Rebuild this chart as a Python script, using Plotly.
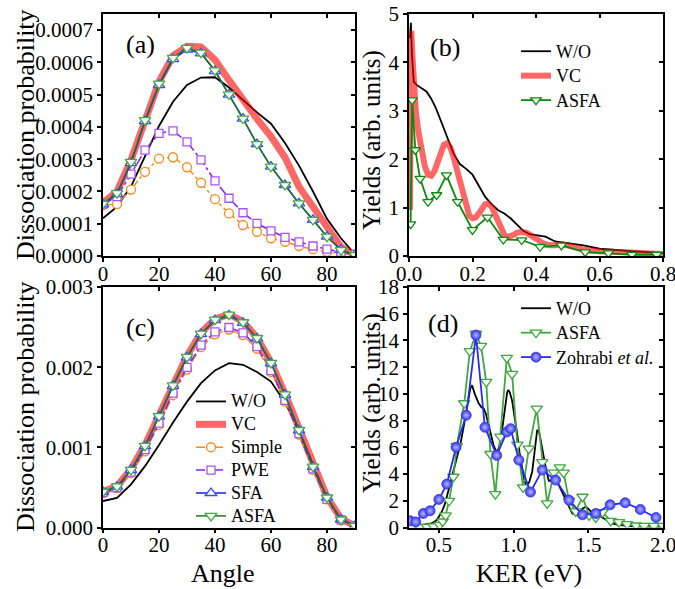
import plotly.graph_objects as go

FONT = "Liberation Serif"

# ---------------- Panel (a) ----------------
angle = [0, 5, 10, 15, 20, 25, 30, 35, 40, 45, 50, 55, 60, 65, 70, 75, 80, 85, 90]
a_wo = [0.000117, 0.000153, 0.000215, 0.00031, 0.000403, 0.000478, 0.00053, 0.000553, 0.000554, 0.000522,
        0.000483, 0.000445, 0.00041, 0.00035, 0.00028, 0.0002, 0.000115, 0.000055, 0.000005]
a_vc = [0.000165, 0.0002, 0.000298, 0.000427, 0.00054, 0.00062, 0.00065, 0.000648, 0.000608, 0.000545,
        0.000483, 0.000425, 0.00037, 0.000305, 0.000215, 0.000155, 0.00009, 0.000028, 0.000003]
a_simple = [0.000158, 0.000161, 0.000206, 0.000261, 0.000302, 0.000306, 0.000275, 0.000227, 0.000176, 0.000132,
            0.000096, 0.000075, 0.000055, 0.000044, 0.000031, 0.000021, 0.000013, 0.000008, 0.000004]
a_pwe = [0.000161, 0.000184, 0.000254, 0.000328, 0.00038, 0.000388, 0.000354, 0.000298, 0.000233, 0.000179,
         0.000134, 0.000101, 0.000078, 0.000058, 0.000044, 0.000031, 0.000021, 0.000012, 0.000005]
a_sfa = [0.00016, 0.000192, 0.000288, 0.000418, 0.00053, 0.00061, 0.00064, 0.000628, 0.000573, 0.0005,
         0.000426, 0.000347, 0.000277, 0.00022, 0.000163, 0.000112, 0.00006, 0.000019, 0.000003]
a_asfa = [0.000162, 0.000195, 0.000292, 0.000421, 0.000534, 0.000614, 0.000645, 0.00063, 0.000575, 0.000501,
          0.000426, 0.000347, 0.000277, 0.00022, 0.000163, 0.000112, 0.00006, 0.000018, 0.000003]

# ---------------- Panel (b) ----------------
b_wo_x = [0.003, 0.006, 0.009, 0.015, 0.025, 0.04, 0.055, 0.07, 0.085, 0.1, 0.12, 0.14, 0.16, 0.18, 0.2,
          0.22, 0.24, 0.26, 0.28, 0.3, 0.32, 0.34, 0.36, 0.38, 0.4, 0.43, 0.46, 0.5, 0.55, 0.6, 0.65, 0.7,
          0.75, 0.8]
b_wo_y = [4.5, 4.82, 4.2, 3.6, 3.53, 3.47, 3.4, 3.25, 3.05, 2.8, 2.45, 2.12, 1.9, 1.8, 1.68,
          1.45, 1.22, 1.07, 0.95, 0.88, 0.78, 0.65, 0.52, 0.45, 0.43, 0.4, 0.3, 0.26, 0.22, 0.15, 0.12, 0.1,
          0.08, 0.06]
b_vc_x = [0.003, 0.007, 0.012, 0.016, 0.022, 0.03, 0.04, 0.05, 0.06, 0.07, 0.08, 0.09, 0.1, 0.11, 0.12,
          0.13, 0.14, 0.15, 0.16, 0.17, 0.18, 0.19, 0.2, 0.21, 0.22, 0.23, 0.24, 0.25, 0.26, 0.27, 0.28,
          0.29, 0.3, 0.31, 0.32, 0.33, 0.34, 0.355, 0.37, 0.385, 0.4, 0.42, 0.44, 0.46, 0.48, 0.5, 0.52,
          0.55, 0.6, 0.65, 0.7, 0.75, 0.8]
b_vc_y = [0.95, 4.65, 4.0, 3.4, 2.95, 2.55, 2.15, 1.85, 1.68, 1.66, 1.75, 1.93, 2.15, 2.3, 2.33,
          2.25, 2.05, 1.8, 1.5, 1.22, 0.98, 0.83, 0.78, 0.8, 0.88, 1.0, 1.07, 1.08, 1.02, 0.88, 0.72,
          0.55, 0.44, 0.39, 0.4, 0.44, 0.48, 0.5, 0.48, 0.43, 0.36, 0.27, 0.22, 0.22, 0.24, 0.22, 0.18,
          0.13, 0.1, 0.08, 0.07, 0.05, 0.04]
b_asfa_x = [0.005, 0.01, 0.02, 0.035, 0.06, 0.087, 0.118, 0.153, 0.2, 0.247, 0.297, 0.355, 0.413, 0.48,
            0.555, 0.628, 0.702, 0.78]
b_asfa_y = [0.66, 3.22, 2.19, 1.6, 1.12, 1.26, 1.67, 1.12, 0.54, 0.8, 0.34, 0.33, 0.19, 0.22,
            0.08, 0.06, 0.03, 0.03]

# ---------------- Panel (c) ----------------
c_wo = [0.00033, 0.00037, 0.000538, 0.000765, 0.00103, 0.00131, 0.00157, 0.0018, 0.00196, 0.00205,
        0.00203, 0.00194, 0.00182, 0.00156, 0.00121, 0.00079, 0.00036, 0.0001, 0.00002]
c_vc = [0.00045, 0.000515, 0.00073, 0.00103, 0.0014, 0.00178, 0.00214, 0.00243, 0.0026, 0.00266,
        0.00257, 0.00237, 0.00206, 0.00167, 0.00122, 0.00077, 0.00038, 0.00011, 0.00002]
c_simple = [0.00043, 0.00049, 0.00068, 0.00095, 0.00128, 0.00165, 0.00197, 0.00225, 0.00241, 0.00247,
            0.0024, 0.00223, 0.00194, 0.00157, 0.00116, 0.00072, 0.00035, 0.00009, 0.00002]
c_pwe = [0.000434, 0.000496, 0.000691, 0.000972, 0.001303, 0.001676, 0.001998, 0.002276, 0.002441, 0.002495,
         0.002429, 0.002255, 0.001957, 0.001585, 0.001171, 0.000732, 0.000352, 0.000095, 0.00002]
c_sfa = [0.000443, 0.000509, 0.000716, 0.001014, 0.001386, 0.001767, 0.002122, 0.002412, 0.002586, 0.002648,
         0.002553, 0.002358, 0.002048, 0.001655, 0.001212, 0.000757, 0.000372, 0.0001, 0.00002]
c_asfa = [0.000446, 0.000512, 0.00072, 0.001018, 0.00139, 0.001772, 0.002128, 0.002418, 0.002592, 0.002655,
          0.00256, 0.002364, 0.002053, 0.00166, 0.001216, 0.00076, 0.000374, 0.0001, 0.00002]

# ---------------- Panel (d) ----------------
d_wo_x = [0.3, 0.35, 0.4, 0.45, 0.48, 0.5, 0.52, 0.54, 0.56, 0.576, 0.6, 0.62, 0.645, 0.665, 0.69, 0.71,
          0.722, 0.74, 0.766, 0.785, 0.8, 0.815, 0.83, 0.85, 0.867, 0.889, 0.905, 0.923, 0.94, 0.957, 0.965,
          0.975, 0.99, 1.01, 1.024, 1.04, 1.057, 1.072, 1.086, 1.105, 1.125, 1.14, 1.158, 1.17, 1.185, 1.2,
          1.22, 1.236, 1.26, 1.293, 1.315, 1.337, 1.365, 1.393, 1.427, 1.46, 1.483, 1.505, 1.528, 1.555,
          1.58, 1.6, 1.628, 1.66, 1.7, 1.75, 1.8, 1.9, 2.0]
d_wo_y = [0.25, 0.2, 0.22, 0.3, 0.5, 0.8, 1.2, 1.75, 2.6, 3.3, 4.2, 5.0, 6.3, 7.5, 9.3, 10.4,
          10.65, 10.0, 9.3, 9.0, 8.9, 8.5, 7.8, 6.9, 6.1, 5.6, 6.1, 7.3, 8.8, 10.1, 10.3,
          10.1, 9.5, 8.2, 7.0, 5.6, 4.3, 3.5, 3.1, 3.4, 4.2, 5.6, 7.3, 7.2, 6.2, 5.3,
          4.2, 3.5, 3.5, 3.4, 2.9, 2.4, 1.7, 1.05, 0.95, 1.4, 1.55, 1.35, 1.05, 0.9,
          0.85, 0.7, 0.5, 0.3, 0.2, 0.12, 0.08, 0.05, 0.05]
d_asfa_x = [0.32, 0.37, 0.42, 0.465, 0.505, 0.525, 0.545, 0.568, 0.597, 0.62, 0.67, 0.707, 0.748, 0.782,
            0.817, 0.845, 0.878, 0.912, 0.955, 0.99, 1.025, 1.064, 1.102, 1.155, 1.192, 1.225, 1.27, 1.31,
            1.335, 1.371, 1.416, 1.461, 1.505, 1.55, 1.595, 1.65, 1.705, 1.76, 1.82, 1.875, 1.94, 2.0]
d_asfa_y = [0.05, 0.05, 0.05, 0.08, 0.2, 0.45, 0.9, 2.0, 3.8, 6.1, 9.3, 13.2, 14.5, 13.6,
            10.9, 5.5, 2.5, 6.8, 12.7, 11.5, 6.2, 3.0, 5.9, 8.9, 4.9, 1.8, 4.1, 4.5,
            4.1, 2.0, 1.2, 2.3, 0.9, 0.75, 1.15, 0.5, 0.4, 0.25, 0.15, 0.12, 0.12, 0.12]
d_zoh_x = [0.307, 0.345, 0.396, 0.441, 0.5, 0.553, 0.615, 0.683, 0.748, 0.808, 0.887, 0.955, 0.98, 1.035,
           1.113, 1.192, 1.281, 1.371, 1.461, 1.55, 1.646, 1.747, 1.848, 1.953]
d_zoh_y = [0.5, 0.42, 1.05, 1.25, 2.1, 3.25, 6.0, 8.4, 14.4, 7.5, 5.4, 7.15, 7.4, 5.05,
           2.65, 4.3, 3.55, 2.05, 0.95, 1.05, 1.7, 1.85, 1.35, 0.75]

# tick definitions
ang_ticks = [0, 20, 40, 60, 80]
a_yticks = [0.0, 0.0001, 0.0002, 0.0003, 0.0004, 0.0005, 0.0006, 0.0007]
b_xticks = [0.0, 0.2, 0.4, 0.6, 0.8]
b_yticks = [0, 1, 2, 3, 4, 5]
c_yticks = [0.0, 0.001, 0.002, 0.003]
d_xticks = [0.5, 1.0, 1.5, 2.0]
d_yticks = [0, 2, 4, 6, 8, 10, 12, 14, 16, 18]

# colours
BLACK = "#000000"
VC = "rgba(255,0,0,0.6)"
ORANGE = "#FF8A1C"
PURPLE_L = "#8A1EF0"
PURPLE_M = "#A855F7"
BLUE_L = "#1A1AFF"
BLUE_M = "#3A4BFF"
GREEN_L = "#1E7B1E"
GREEN_M = "#45A845"


def lab(s):
    # legend label drawn at 18px while row spacing follows the (smaller) legend font
    return '<span style="font-size:18px">%s</span>' % s


fig = go.Figure()


def line_tr(x, y, name, color, width, xa, ya, legend=None, dash="solid"):
    return go.Scatter(x=x, y=y, name=lab(name), mode="lines", xaxis=xa, yaxis=ya,
                      line=dict(color=color, width=width, dash=dash),
                      showlegend=legend is not None, legend=legend or "legend", hoverinfo="skip")


def mk_tr(x, y, name, lcolor, mcolor, symbol, size, xa, ya, legend=None, dash="solid", fill="white",
          lw=1.5, mlw=1.3):
    return go.Scatter(x=x, y=y, name=lab(name), mode="lines+markers", xaxis=xa, yaxis=ya,
                      line=dict(color=lcolor, width=lw, dash=dash),
                      marker=dict(symbol=symbol, size=size, color=fill,
                                  line=dict(color=mcolor, width=mlw)),
                      showlegend=legend is not None, legend=legend or "legend", hoverinfo="skip")


# (a)
fig.add_trace(line_tr(angle, a_wo, "W/O", BLACK, 1.8, "x", "y"))
fig.add_trace(line_tr(angle, a_vc, "VC", VC, 7, "x", "y"))
fig.add_trace(mk_tr(angle, a_simple, "Simple", ORANGE, ORANGE, "circle", 9, "x", "y", dash="dashdot"))
fig.add_trace(mk_tr(angle, a_pwe, "PWE", PURPLE_L, PURPLE_M, "square", 8, "x", "y", dash="dashdot"))
fig.add_trace(mk_tr(angle, a_sfa, "SFA", BLUE_L, BLUE_M, "triangle-up", 10, "x", "y"))
fig.add_trace(mk_tr(angle, a_asfa, "ASFA", GREEN_L, GREEN_M, "triangle-down", 10, "x", "y"))

# (b)
fig.add_trace(line_tr(b_wo_x, b_wo_y, "W/O", BLACK, 1.8, "x2", "y2", legend="legend"))
fig.add_trace(line_tr(b_vc_x, b_vc_y, "VC", VC, 6, "x2", "y2", legend="legend"))
fig.add_trace(mk_tr(b_asfa_x, b_asfa_y, "ASFA", "#0A8A0A", "#0A8A0A", "triangle-down", 9, "x2", "y2",
                    legend="legend", lw=1.8))

# (c)
fig.add_trace(line_tr(angle, c_wo, "W/O", BLACK, 1.8, "x3", "y3", legend="legend2"))
fig.add_trace(line_tr(angle, c_vc, "VC", VC, 7, "x3", "y3", legend="legend2"))
fig.add_trace(mk_tr(angle, c_simple, "Simple", ORANGE, ORANGE, "circle", 9, "x3", "y3", legend="legend2",
                    dash="dashdot"))
fig.add_trace(mk_tr(angle, c_pwe, "PWE", PURPLE_L, PURPLE_M, "square", 8, "x3", "y3", legend="legend2",
                    dash="dashdot"))
fig.add_trace(mk_tr(angle, c_sfa, "SFA", BLUE_L, BLUE_M, "triangle-up", 10, "x3", "y3", legend="legend2"))
fig.add_trace(mk_tr(angle, c_asfa, "ASFA", GREEN_L, GREEN_M, "triangle-down", 10, "x3", "y3",
                    legend="legend2"))

# (d)
fig.add_trace(line_tr(d_wo_x, d_wo_y, "W/O", BLACK, 1.8, "x4", "y4", legend="legend3"))
fig.add_trace(mk_tr(d_asfa_x, d_asfa_y, "ASFA", "#3FA83F", "#3FA83F", "triangle-down", 10, "x4", "y4",
                    legend="legend3", lw=1.8))
fig.add_trace(go.Scatter(x=d_zoh_x, y=d_zoh_y, name=lab("Zohrabi <i>et al.</i>"), mode="lines+markers",
                         xaxis="x4", yaxis="y4", line=dict(color="#2A2AF5", width=1.8),
                         marker=dict(symbol="circle", size=10, color="#3535F0",
                                     gradient=dict(type="radial", color="#B8B8FF"),
                                     line=dict(color="#3535F0", width=0.8)),
                         legend="legend3", hoverinfo="skip"))

# dummy traces for mirrored (inward) tick axes
for i in range(4):
    k = i + 5
    base = "" if i == 0 else str(i + 1)
    fig.add_trace(go.Scatter(x=[None], y=[None], xaxis="x%d" % k, yaxis="y" + base, showlegend=False,
                             hoverinfo="skip"))
    fig.add_trace(go.Scatter(x=[None], y=[None], xaxis="x" + base, yaxis="y%d" % k, showlegend=False,
                             hoverinfo="skip"))

W, H = 675, 589
xl = [103 / W, 355 / W]
xr = [409 / W, 663 / W]
yt = [1 - 256 / H, 1 - 14 / H]
yb = [1 - 527.5 / H, 1 - 287 / H]

tickfont = dict(family=FONT, size=21, color="black")


def ax(domain, rng, tickvals, fmt, anchor, standoff=0):
    return dict(domain=domain, range=rng, tickvals=tickvals, tickformat=fmt, anchor=anchor,
                showline=True, linecolor="black", linewidth=1.5, mirror=True,
                ticks="outside", ticklen=4, tickwidth=1.5, tickcolor="black",
                tickfont=tickfont, showgrid=False, zeroline=False, fixedrange=True,
                ticklabeloverflow="allow", ticklabelstandoff=standoff)


def ov(rng, tickvals, base, side, anchor):
    return dict(range=rng, tickvals=tickvals, overlaying=base, side=side, anchor=anchor,
                showline=False, ticks="inside", ticklen=4, tickwidth=1.5, tickcolor="black",
                showticklabels=False, showgrid=False, zeroline=False, fixedrange=True)


spec = [
    (xl, yt, [0, 90], ang_ticks, "d", [0, 0.00075], a_yticks, ".4f"),
    (xr, yt, [0, 0.8], b_xticks, ".1f", [0, 5], b_yticks, "d"),
    (xl, yb, [0, 90], ang_ticks, "d", [0, 0.003], c_yticks, ".3f"),
    (xr, yb, [0.3, 2.0], d_xticks, ".1f", [0, 18], d_yticks, "d"),
]
layout_axes = {}
for i, (xd, yd, xrg, xtv, xf, yrg, ytv, yf) in enumerate(spec):
    s = "" if i == 0 else str(i + 1)
    layout_axes["xaxis" + s] = ax(xd, xrg, xtv, xf, "y" + s, standoff=-6)
    layout_axes["yaxis" + s] = ax(yd, yrg, ytv, yf, "x" + s)
    k = i + 5
    layout_axes["xaxis%d" % k] = ov(xrg, xtv, "x" + s, "top", "y" + s)
    layout_axes["yaxis%d" % k] = ov(yrg, ytv, "y" + s, "right", "x" + s)

fig.update_layout(**layout_axes)


def leg(x, y, size):
    return dict(x=x, y=y, xanchor="left", yanchor="top", bgcolor="rgba(0,0,0,0)", borderwidth=0,
                font=dict(family=FONT, size=size, color="black"), tracegroupgap=0)


fig.update_layout(
    width=W, height=H, template="none",
    paper_bgcolor="white", plot_bgcolor="white",
    margin=dict(l=0, r=0, t=0, b=0),
    font=dict(family=FONT, color="black"),
    legend=leg(516 / W, 1 - 34 / H, 16.5),
    legend2=leg(191 / W, 1 - 385 / H, 15.3),
    legend3=leg(516 / W, 1 - 291 / H, 16.5),
)

ann_font = dict(family=FONT, size=26, color="black")
annotations = [
    dict(text="(a)", x=140 / W, y=1 - 45 / H),
    dict(text="(b)", x=445 / W, y=1 - 48 / H),
    dict(text="(c)", x=140 / W, y=1 - 327 / H),
    dict(text="(d)", x=443 / W, y=1 - 323 / H),
    dict(text="Dissociation probability", x=25 / W, y=1 - 135 / H, textangle=-90),
    dict(text="Dissociation probability", x=25 / W, y=1 - 407 / H, textangle=-90),
    dict(text="Yields (arb. units)", x=372 / W, y=1 - 140 / H, textangle=-90, size=25),
    dict(text="Yields (arb. units)", x=372 / W, y=1 - 403 / H, textangle=-90, size=25),
    dict(text="Angle", x=223 / W, y=1 - 573 / H),
    dict(text="KER (eV)", x=529 / W, y=1 - 573 / H),
]
for a in annotations:
    size = a.pop("size", 26)
    fig.add_annotation(xref="paper", yref="paper", showarrow=False,
                       font=dict(family=FONT, size=size, color="black"),
                       xanchor="center", yanchor="middle", **a)

fig.write_html("out.html", config={"displayModeBar": False},
               post_script="document.body.style.margin='0';document.body.style.overflow='hidden';")
